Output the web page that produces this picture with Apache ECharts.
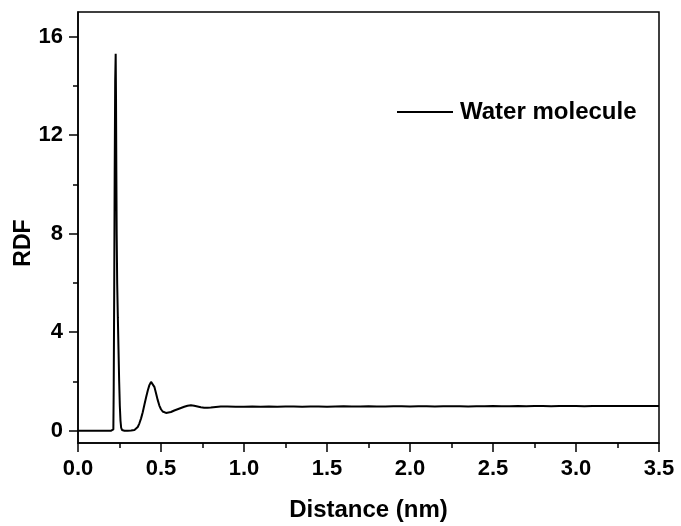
<!DOCTYPE html>
<html>
<head>
<meta charset="utf-8">
<script src="https://cdn.jsdelivr.net/npm/echarts@6/dist/echarts.min.js"></script>
<style>
html,body{margin:0;padding:0;background:#fff;}
#chart{width:681px;height:526px;}
</style>
</head>
<body>
<div id="chart"></div>
<script>
// ---- data ----
var seriesName = 'Water molecule';
var distance = [
  0.00, 0.05, 0.10, 0.15, 0.20, 0.210, 0.213, 0.215, 0.218, 0.221, 0.224, 0.227, 0.229, 0.231, 0.233,
  0.236, 0.240, 0.244, 0.248, 0.252, 0.256, 0.260, 0.265, 0.27, 0.28, 0.30, 0.32, 0.34, 0.35, 0.36,
  0.37, 0.38, 0.39, 0.40, 0.41, 0.42, 0.43, 0.44, 0.45, 0.46, 0.47, 0.48, 0.49, 0.50, 0.51,
  0.52, 0.53, 0.54, 0.56, 0.58, 0.60, 0.62, 0.64, 0.66, 0.68, 0.70, 0.72, 0.74, 0.76, 0.78,
  0.80, 0.83, 0.86, 0.90, 0.95, 1.00, 1.05, 1.10, 1.15, 1.20, 1.25, 1.30, 1.35, 1.40, 1.45,
  1.50, 1.55, 1.60, 1.65, 1.70, 1.75, 1.80, 1.85, 1.90, 1.95, 2.00, 2.05, 2.10, 2.15, 2.20,
  2.25, 2.30, 2.35, 2.40, 2.45, 2.50, 2.55, 2.60, 2.65, 2.70, 2.75, 2.80, 2.85, 2.90, 2.95,
  3.00, 3.05, 3.10, 3.15, 3.20, 3.25, 3.30, 3.35, 3.40, 3.45, 3.50
];
var rdf = [
  0.00, 0.00, 0.00, 0.00, 0.00, 0.00, 0.05, 1.6, 5.5, 10.5, 14.2, 15.3, 13.5, 10.5, 8.0,
  6.0, 4.6, 3.3, 2.0, 1.0, 0.4, 0.12, 0.03, 0.01, 0.00, 0.00, 0.01, 0.03, 0.07, 0.15,
  0.30, 0.50, 0.75, 1.05, 1.35, 1.62, 1.85, 1.98, 1.95, 1.78, 1.52, 1.25, 1.02, 0.87, 0.78,
  0.74, 0.72, 0.72, 0.76, 0.82, 0.87, 0.92, 0.97, 1.01, 1.03, 1.01, 0.98, 0.95, 0.93, 0.93,
  0.94, 0.96, 0.98, 0.98, 0.97, 0.97, 0.98, 0.97, 0.98, 0.97, 0.98, 0.98, 0.97, 0.98, 0.98,
  0.97, 0.98, 0.99, 0.98, 0.98, 0.99, 0.98, 0.98, 0.99, 0.99, 0.98, 0.99, 0.99, 0.98, 0.99,
  0.99, 0.99, 0.98, 0.99, 0.99, 1.00, 0.99, 0.99, 1.00, 0.99, 1.00, 1.00, 0.99, 1.00, 1.00,
  1.00, 0.99, 1.00, 1.00, 1.00, 1.00, 1.00, 1.00, 1.00, 1.00, 1.00
];
var xTicks = {min: 0, max: 3.5, interval: 0.5};
var yRange = {min: -0.5, max: 17};
var yLabelValues = [0, 4, 8, 12, 16];
var yMinorValues = [2, 6, 10, 14];
var xTitle = 'Distance (nm)';
var yTitle = 'RDF';

// ---- chart ----
var points = distance.map(function (d, i) { return [d, rdf[i]]; });
var FONT = '"Liberation Sans", Arial, sans-serif';
var gridPos = {left: 78, right: 22, top: 12, bottom: 83};

var chart = echarts.init(document.getElementById('chart'), null, {renderer: 'canvas'});
chart.setOption({
  animation: false,
  backgroundColor: '#fff',
  grid: [
    Object.assign({show: true, borderColor: '#000', borderWidth: 1.5, containLabel: false, outerBoundsMode: 'none'}, gridPos),
    Object.assign({show: false, containLabel: false, outerBoundsMode: 'none'}, gridPos)
  ],
  graphic: [{
    type: 'text',
    x: 24,
    y: 243,
    rotation: Math.PI / 2,
    style: {
      text: yTitle,
      fill: '#000',
      font: 'bold 23px ' + FONT,
      align: 'center',
      verticalAlign: 'middle'
    }
  }],
  legend: {
    data: [seriesName],
    left: 392,
    top: 95,
    icon: 'rect',
    itemWidth: 56,
    itemHeight: 2,
    itemGap: 10,
    textStyle: {fontFamily: FONT, fontWeight: 'bold', fontSize: 24, color: '#000', padding: [0, 0, 0, 2]}
  },
  xAxis: [{
    type: 'value',
    gridIndex: 0,
    min: xTicks.min, max: xTicks.max, interval: xTicks.interval,
    name: xTitle,
    nameLocation: 'middle',
    nameGap: 55,
    nameTextStyle: {fontFamily: FONT, fontWeight: 'bold', fontSize: 24, color: '#000'},
    axisLine: {show: true, onZero: false, lineStyle: {color: '#000', width: 1.5}},
    axisTick: {show: true, inside: false, length: 9, lineStyle: {color: '#000', width: 1.5}},
    minorTick: {show: true, splitNumber: 2, length: 5, lineStyle: {color: '#000', width: 1.5}},
    splitLine: {show: false},
    axisLabel: {
      show: true, margin: 15, color: '#000', fontFamily: FONT, fontWeight: 'bold', fontSize: 22,
      showMinLabel: true, showMaxLabel: true,
      formatter: function (v) { return v.toFixed(1); }
    }
  }, {
    type: 'value', gridIndex: 1, min: xTicks.min, max: xTicks.max, show: false
  }],
  yAxis: [{
    type: 'value',
    gridIndex: 0,
    min: yRange.min, max: yRange.max,
    axisLine: {show: true, onZero: false, lineStyle: {color: '#000', width: 1.5}},
    axisTick: {show: true, inside: false, length: 9, customValues: yLabelValues, lineStyle: {color: '#000', width: 1.5}},
    splitLine: {show: false},
    axisLabel: {
      show: true, margin: 15, color: '#000', fontFamily: FONT, fontWeight: 'bold', fontSize: 22,
      customValues: yLabelValues
    }
  }, {
    type: 'value',
    gridIndex: 1,
    position: 'left',
    min: yRange.min, max: yRange.max,
    axisLine: {show: false, onZero: false},
    axisTick: {show: true, inside: false, length: 5, customValues: yMinorValues, lineStyle: {color: '#000', width: 1.5}},
    axisLabel: {show: false},
    splitLine: {show: false}
  }],
  series: [{
    name: seriesName,
    type: 'line',
    xAxisIndex: 0,
    yAxisIndex: 0,
    data: points,
    symbol: 'none',
    showSymbol: false,
    smooth: false,
    lineStyle: {color: '#000', width: 2},
    itemStyle: {color: '#000'}
  }]
});
</script>
</body>
</html>
